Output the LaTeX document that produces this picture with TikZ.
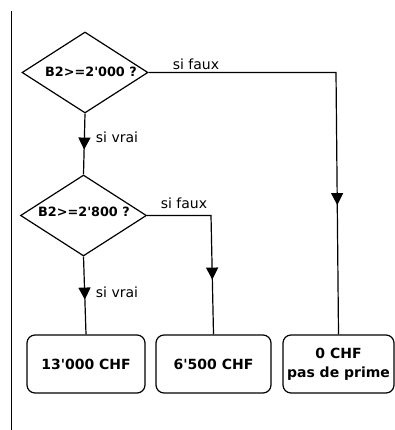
\documentclass[tikz,border=0pt]{standalone}
\usepackage{fontspec}
\setmainfont{DejaVu Sans}[Ligatures=TeXOff]
\usetikzlibrary{shapes.geometric,arrows.meta,decorations.markings}
\begin{document}
\begin{tikzpicture}[x=1pt,y=-1pt,line width=1.2pt,
  diam/.style={draw,diamond,inner sep=0pt,minimum width=126pt,minimum height=81pt},
  dtext/.style={font=\fontsize{12.8}{14}\selectfont\bfseries,inner sep=0pt},
  lbl/.style={font=\fontsize{14}{16}\selectfont,inner sep=0pt},
  res/.style={draw,rounded corners=8pt,minimum height=58pt,align=center,inner sep=0pt,
    font=\fontsize{14}{19}\selectfont\bfseries},
  midarrow/.style={postaction={decorate},decoration={markings,
    mark=at position #1 with {\arrow{Triangle[width=12pt,length=12pt]}}}}
]
\useasboundingbox (0,0) rectangle (395,430);
\coordinate (lt) at (11.5,11);
\coordinate (lb) at (11.5,430);
\draw (lt) -- (lb);

\node[diam] (d1) at (85,72.5) {};
\node[dtext] (t1) at (91,72) {B2>=2'000 ?};
\node[diam] (d2) at (83.5,215.5) {};
\node[dtext] (t2) at (84,212) {B2>=2'800 ?};

\node[res,minimum width=118pt] (b1) at (86,364) {13'000 CHF};
\node[res,minimum width=115pt] (b2) at (213.5,364) {6'500 CHF};
\node[res,minimum width=111pt] (b3) at (338.5,364) {0 CHF\\pas de prime};

\coordinate (c1) at (336,72.5);
\coordinate (c2) at (211,215.5);

\draw[midarrow=36pt] (d1.south) -- (d2.north);
\draw[midarrow=320pt] (d1.east) -- (c1) -- (b3.north);
\draw[midarrow=128pt] (d2.east) -- (c2) -- (b2.north);
\draw[midarrow=43pt] (d2.south) -- (b1.north);

\node[lbl] (v1) at (117,137) {si vrai};
\node[lbl] (f1) at (196,64) {si faux};
\node[lbl] (f2) at (184,203) {si faux};
\node[lbl] (v2) at (117,292) {si vrai};
\end{tikzpicture}
\end{document}
